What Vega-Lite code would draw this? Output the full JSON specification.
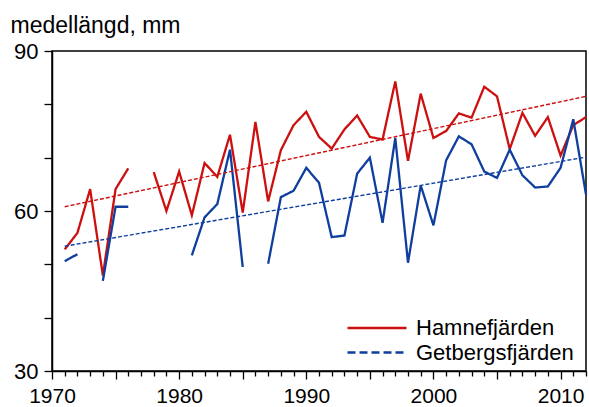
{
  "$schema": "https://vega.github.io/schema/vega-lite/v6.json",
  "width": 534,
  "height": 320,
  "autosize": {"type": "none"},
  "padding": {"left": 52, "top": 51, "right": 3, "bottom": 36},
  "background": "white",
  "config": {
    "view": {"stroke": "black", "strokeWidth": 1.5},
    "font": "Liberation Sans",
    "axis": {"domainColor": "black", "domainWidth": 1.5, "tickColor": "black", "tickWidth": 1.3, "labelColor": "black", "labelFont": "Liberation Sans", "grid": false, "labelOverlap": false}
  },
  "data": {
    "values": [
      {"year": 1971, "series": "Hamnefjärden", "kind": "obs", "value": 52.8},
      {"year": 1972, "series": "Hamnefjärden", "kind": "obs", "value": 55.9},
      {"year": 1973, "series": "Hamnefjärden", "kind": "obs", "value": 64.1},
      {"year": 1974, "series": "Hamnefjärden", "kind": "obs", "value": 47.9},
      {"year": 1975, "series": "Hamnefjärden", "kind": "obs", "value": 64.1},
      {"year": 1976, "series": "Hamnefjärden", "kind": "obs", "value": 68.0},
      {"year": 1977, "series": "Hamnefjärden", "kind": "obs", "value": null},
      {"year": 1978, "series": "Hamnefjärden", "kind": "obs", "value": 67.3},
      {"year": 1979, "series": "Hamnefjärden", "kind": "obs", "value": 60.0},
      {"year": 1980, "series": "Hamnefjärden", "kind": "obs", "value": 67.4},
      {"year": 1981, "series": "Hamnefjärden", "kind": "obs", "value": 59.2},
      {"year": 1982, "series": "Hamnefjärden", "kind": "obs", "value": 69.0},
      {"year": 1983, "series": "Hamnefjärden", "kind": "obs", "value": 66.4},
      {"year": 1984, "series": "Hamnefjärden", "kind": "obs", "value": 74.3},
      {"year": 1985, "series": "Hamnefjärden", "kind": "obs", "value": 59.7},
      {"year": 1986, "series": "Hamnefjärden", "kind": "obs", "value": 76.7},
      {"year": 1987, "series": "Hamnefjärden", "kind": "obs", "value": 61.8},
      {"year": 1988, "series": "Hamnefjärden", "kind": "obs", "value": 71.4},
      {"year": 1989, "series": "Hamnefjärden", "kind": "obs", "value": 76.1},
      {"year": 1990, "series": "Hamnefjärden", "kind": "obs", "value": 78.6},
      {"year": 1991, "series": "Hamnefjärden", "kind": "obs", "value": 73.9},
      {"year": 1992, "series": "Hamnefjärden", "kind": "obs", "value": 71.7},
      {"year": 1993, "series": "Hamnefjärden", "kind": "obs", "value": 75.3},
      {"year": 1994, "series": "Hamnefjärden", "kind": "obs", "value": 77.9},
      {"year": 1995, "series": "Hamnefjärden", "kind": "obs", "value": 73.9},
      {"year": 1996, "series": "Hamnefjärden", "kind": "obs", "value": 73.4},
      {"year": 1997, "series": "Hamnefjärden", "kind": "obs", "value": 84.3},
      {"year": 1998, "series": "Hamnefjärden", "kind": "obs", "value": 69.4},
      {"year": 1999, "series": "Hamnefjärden", "kind": "obs", "value": 82.0},
      {"year": 2000, "series": "Hamnefjärden", "kind": "obs", "value": 73.7},
      {"year": 2001, "series": "Hamnefjärden", "kind": "obs", "value": 75.0},
      {"year": 2002, "series": "Hamnefjärden", "kind": "obs", "value": 78.3},
      {"year": 2003, "series": "Hamnefjärden", "kind": "obs", "value": 77.5},
      {"year": 2004, "series": "Hamnefjärden", "kind": "obs", "value": 83.3},
      {"year": 2005, "series": "Hamnefjärden", "kind": "obs", "value": 81.5},
      {"year": 2006, "series": "Hamnefjärden", "kind": "obs", "value": 71.6},
      {"year": 2007, "series": "Hamnefjärden", "kind": "obs", "value": 78.4},
      {"year": 2008, "series": "Hamnefjärden", "kind": "obs", "value": 74.1},
      {"year": 2009, "series": "Hamnefjärden", "kind": "obs", "value": 77.6},
      {"year": 2010, "series": "Hamnefjärden", "kind": "obs", "value": 70.4},
      {"year": 2011, "series": "Hamnefjärden", "kind": "obs", "value": 76.1},
      {"year": 2012, "series": "Hamnefjärden", "kind": "obs", "value": 77.6},
      {"year": 1971, "series": "Getbergsfjärden", "kind": "obs", "value": 50.6},
      {"year": 1972, "series": "Getbergsfjärden", "kind": "obs", "value": 51.9},
      {"year": 1973, "series": "Getbergsfjärden", "kind": "obs", "value": null},
      {"year": 1974, "series": "Getbergsfjärden", "kind": "obs", "value": 46.9},
      {"year": 1975, "series": "Getbergsfjärden", "kind": "obs", "value": 60.8},
      {"year": 1976, "series": "Getbergsfjärden", "kind": "obs", "value": 60.8},
      {"year": 1977, "series": "Getbergsfjärden", "kind": "obs", "value": null},
      {"year": 1978, "series": "Getbergsfjärden", "kind": "obs", "value": null},
      {"year": 1979, "series": "Getbergsfjärden", "kind": "obs", "value": null},
      {"year": 1980, "series": "Getbergsfjärden", "kind": "obs", "value": null},
      {"year": 1981, "series": "Getbergsfjärden", "kind": "obs", "value": 51.7},
      {"year": 1982, "series": "Getbergsfjärden", "kind": "obs", "value": 58.8},
      {"year": 1983, "series": "Getbergsfjärden", "kind": "obs", "value": 61.3},
      {"year": 1984, "series": "Getbergsfjärden", "kind": "obs", "value": 71.5},
      {"year": 1985, "series": "Getbergsfjärden", "kind": "obs", "value": 49.5},
      {"year": 1986, "series": "Getbergsfjärden", "kind": "obs", "value": null},
      {"year": 1987, "series": "Getbergsfjärden", "kind": "obs", "value": 50.1},
      {"year": 1988, "series": "Getbergsfjärden", "kind": "obs", "value": 62.6},
      {"year": 1989, "series": "Getbergsfjärden", "kind": "obs", "value": 63.8},
      {"year": 1990, "series": "Getbergsfjärden", "kind": "obs", "value": 68.1},
      {"year": 1991, "series": "Getbergsfjärden", "kind": "obs", "value": 65.3},
      {"year": 1992, "series": "Getbergsfjärden", "kind": "obs", "value": 55.1},
      {"year": 1993, "series": "Getbergsfjärden", "kind": "obs", "value": 55.4},
      {"year": 1994, "series": "Getbergsfjärden", "kind": "obs", "value": 67.0},
      {"year": 1995, "series": "Getbergsfjärden", "kind": "obs", "value": 70.0},
      {"year": 1996, "series": "Getbergsfjärden", "kind": "obs", "value": 57.8},
      {"year": 1997, "series": "Getbergsfjärden", "kind": "obs", "value": 73.7},
      {"year": 1998, "series": "Getbergsfjärden", "kind": "obs", "value": 50.3},
      {"year": 1999, "series": "Getbergsfjärden", "kind": "obs", "value": 64.8},
      {"year": 2000, "series": "Getbergsfjärden", "kind": "obs", "value": 57.3},
      {"year": 2001, "series": "Getbergsfjärden", "kind": "obs", "value": 69.5},
      {"year": 2002, "series": "Getbergsfjärden", "kind": "obs", "value": 74.0},
      {"year": 2003, "series": "Getbergsfjärden", "kind": "obs", "value": 72.5},
      {"year": 2004, "series": "Getbergsfjärden", "kind": "obs", "value": 67.4},
      {"year": 2005, "series": "Getbergsfjärden", "kind": "obs", "value": 66.2},
      {"year": 2006, "series": "Getbergsfjärden", "kind": "obs", "value": 71.5},
      {"year": 2007, "series": "Getbergsfjärden", "kind": "obs", "value": 66.7},
      {"year": 2008, "series": "Getbergsfjärden", "kind": "obs", "value": 64.4},
      {"year": 2009, "series": "Getbergsfjärden", "kind": "obs", "value": 64.6},
      {"year": 2010, "series": "Getbergsfjärden", "kind": "obs", "value": 68.1},
      {"year": 2011, "series": "Getbergsfjärden", "kind": "obs", "value": 77.2},
      {"year": 2012, "series": "Getbergsfjärden", "kind": "obs", "value": 63.1},
      {"year": 1971, "series": "Hamnefjärden", "kind": "trend", "value": 60.8},
      {"year": 2012, "series": "Hamnefjärden", "kind": "trend", "value": 81.5},
      {"year": 1971, "series": "Getbergsfjärden", "kind": "trend", "value": 53.4},
      {"year": 2012, "series": "Getbergsfjärden", "kind": "trend", "value": 70.1}
    ]
  },
  "mark": {"type": "line"},
  "encoding": {
    "x": {
      "field": "year", "type": "quantitative",
      "scale": {"domain": [1970, 2012], "nice": false, "zero": false},
      "axis": {
        "title": null,
        "values": [1970,1971,1972,1973,1974,1975,1976,1977,1978,1979,1980,1981,1982,1983,1984,1985,1986,1987,1988,1989,1990,1991,1992,1993,1994,1995,1996,1997,1998,1999,2000,2001,2002,2003,2004,2005,2006,2007,2008,2009,2010,2011,2012],
        "tickSize": {"condition": {"test": "datum.value % 5 === 0", "value": 8}, "value": 5},
        "labelExpr": "datum.value % 10 === 0 ? datum.value : ''",
        "labelFontSize": 21,
        "labelPadding": 6,
        "labelFlush": false,
        "labelOverlap": false,
        "labelBound": false
      }
    },
    "y": {
      "field": "value", "type": "quantitative",
      "scale": {"domain": [30, 90], "nice": false, "zero": false},
      "axis": {
        "values": [30, 40, 50, 60, 70, 80, 90],
        "tickSize": 8,
        "labelPadding": 6,
        "labelExpr": "datum.value % 30 === 0 ? datum.value : ''",
        "labelFontSize": 22,
        "labelOverlap": false,
        "title": "medellängd, mm",
        "titleAngle": 0,
        "titleAlign": "left",
        "titleBaseline": "alphabetic",
        "titleX": -42,
        "titleY": -19,
        "titleFontSize": 23,
        "titleFontWeight": "normal",
        "titleColor": "black",
        "titleFont": "Liberation Sans"
      }
    },
    "strokeWidth": {
      "field": "kind", "type": "nominal",
      "scale": {"domain": ["obs", "trend"], "range": [2.3, 1.4]},
      "legend": null
    },
    "strokeDash": {
      "field": "kind", "type": "nominal",
      "scale": {"domain": ["obs", "trend"], "range": [[1, 0], [4, 2]]},
      "legend": null
    },
    "color": {
      "field": "series", "type": "nominal",
      "scale": {"domain": ["Hamnefjärden", "Getbergsfjärden"], "range": ["#cc1010", "#0f3e9e"]},
      "legend": {
        "orient": "none",
        "legendX": 314,
        "legendY": 266,
        "title": null,
        "padding": 0,
        "symbolType": "M-5.9,0H5.9",
        "symbolSize": 100,
        "symbolStrokeWidth": 2.5,
        "labelFontSize": 22,
        "labelFont": "Liberation Sans",
        "labelColor": "black",
        "labelOffset": 28,
        "labelLimit": 300,
        "rowPadding": 2.6,
        "encoding": {
          "symbols": {
            "strokeDash": {"condition": {"test": "datum.value === 'Getbergsfjärden'", "value": [8, 4]}, "value": [1, 0]}
          }
        }
      }
    }
  }
}
